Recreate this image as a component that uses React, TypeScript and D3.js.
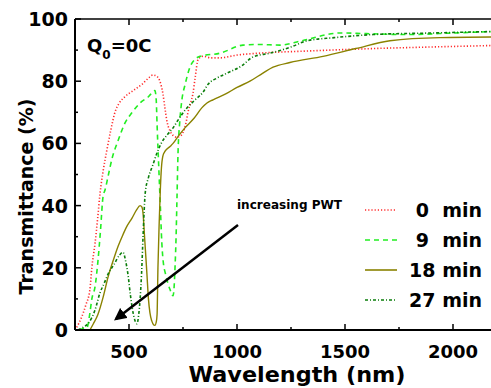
import React from "react"
import * as d3 from "d3"

// wavelength (nm), transmittance (%)
const min0: [number, number][] = [
  [250, 0], [259, 1], [280, 4], [300, 8], [319, 13], [328, 20], [343, 28], [355, 36], [366, 44],
  [380, 51], [398, 58], [415, 64], [435, 70], [455, 73], [481, 75], [520, 77], [560, 79], [590, 81],
  [611, 82], [630, 81.5], [643, 80], [657, 76], [667, 71], [676, 67], [690, 64], [705, 62.5],
  [722, 62], [740, 62.5], [750, 63.5], [765, 67], [773, 70], [785, 73], [796, 76], [806, 81],
  [820, 87], [843, 88], [880, 87.5], [921, 87.5], [1000, 88.4], [1100, 89], [1324, 89.7],
  [1630, 90.5], [1900, 91], [2200, 91.5],
]
const min9: [number, number][] = [
  [270, 0], [290, 0.5], [306, 0.8], [319, 5.5], [328, 10], [343, 14], [356, 22], [368, 32],
  [380, 43], [389, 45], [405, 50], [421, 55], [450, 61], [481, 66.5], [515, 70], [551, 73],
  [590, 75], [620, 77], [626, 74], [630, 66], [638, 52], [645, 40], [652, 28], [660, 21],
  [667, 18.6], [690, 13], [704, 11], [709, 14], [713, 20], [718, 30], [722, 42], [727, 57],
  [735, 67], [745, 74], [760, 79], [782, 84.5], [805, 87], [829, 88], [921, 89], [1028, 91.6],
  [1100, 91.8], [1199, 91.6], [1300, 93], [1477, 95.5], [1600, 95.3], [1787, 95], [2000, 95.5],
  [2200, 96],
]
const min18: [number, number][] = [
  [319, 0], [335, 2], [356, 5], [380, 10.5], [403, 17], [430, 23], [450, 27], [468, 30],
  [490, 33.3], [514, 36], [535, 38.6], [551, 40], [560, 39.5], [565, 37.5], [572, 30], [583, 18],
  [590, 10], [597, 5.5], [605, 3], [611, 2], [620, 1.5], [626, 2.5], [630, 5], [634, 20],
  [640, 35], [645, 45], [650, 52], [657, 56], [667, 57.5], [690, 59], [704, 60], [730, 62.5],
  [759, 65], [800, 68], [838, 71.5], [861, 73], [889, 74], [950, 76], [1000, 78], [1060, 80],
  [1120, 82.6], [1167, 84.5], [1245, 86], [1398, 88], [1550, 90.5], [1708, 93], [1940, 94],
  [2200, 94.2],
]
const min27: [number, number][] = [
  [264, 0], [290, 1], [310, 2], [343, 6.5], [366, 12], [385, 15], [403, 18], [430, 21], [455, 24],
  [472, 25], [485, 22], [495, 18], [507, 11], [519, 5.5], [528, 3], [537, 2], [545, 5], [551, 9.5],
  [558, 18], [565, 30], [570, 38], [575, 44], [590, 49], [610, 53], [630, 57], [653, 60.5],
  [680, 63], [704, 65], [727, 67.5], [768, 71.4], [806, 74], [843, 76.5], [866, 79], [907, 81],
  [954, 82.6], [1023, 85], [1074, 87.8], [1153, 89], [1250, 91], [1324, 93], [1450, 94],
  [1630, 95], [1900, 95.5], [2200, 96],
]

const seriesNames = ["0  min", "9  min", "18 min", "27 min"]
const seriesData = [min0, min9, min18, min27]
const colors = ["#ff2a2a", "#22ee22", "#8a8200", "#0a7d0a"]
const dashes = ["1.2,2", "5,4", "none", "3,2,1,2"]

const xTicks = [500, 1000, 1500, 2000]
const xMinor = [250, 750, 1250, 1750]
const yTicks = [0, 20, 40, 60, 80, 100]
const yMinor = [10, 30, 50, 70, 90]

const font = "'DejaVu Sans', sans-serif"

export default function App() {
  const W = 491
  const H = 388
  const margin = { top: 19, left: 75, bottom: 58 }
  const x = d3.scaleLinear().domain([250, 2200]).range([margin.left, margin.left + 1950 * 0.216])
  const y = d3.scaleLinear().domain([0, 100]).range([H - margin.bottom, margin.top])
  const x0 = x.range()[0]
  const x1 = x.range()[1]
  const yb = y(0)
  const yt = y(100)

  const line = d3
    .line<[number, number]>()
    .x((d) => x(d[0]))
    .y((d) => y(d[1]))
    .curve(d3.curveMonotoneX)

  return (
    <svg width={W} height={H} style={{ position: "absolute", left: 0, top: 0, background: "#fff" }}>
      <defs>
        <clipPath id="plot">
          <rect x={x0} y={yt} width={x1 - x0} height={yb - yt} />
        </clipPath>
        <marker id="head" viewBox="0 0 10 10" refX="8" refY="5" markerWidth="5" markerHeight="5" orient="auto">
          <path d="M0,0 L10,5 L0,10 z" fill="#000" />
        </marker>
      </defs>

      <g clipPath="url(#plot)">
        {seriesData.map((d, i) => (
          <path
            key={i}
            d={line(d) || ""}
            fill="none"
            stroke={colors[i]}
            strokeWidth={i === 2 ? 1.4 : 1.6}
            strokeDasharray={dashes[i]}
          />
        ))}
      </g>

      {/* axes frame */}
      <line x1={x0} x2={W} y1={yb} y2={yb} stroke="#000" strokeWidth={2} />
      <line x1={x0} x2={W} y1={yt} y2={yt} stroke="#000" strokeWidth={1.5} />
      <line x1={x0} x2={x0} y1={yt} y2={yb} stroke="#000" strokeWidth={2} />

      {xTicks.map((t) => (
        <g key={t}>
          <line x1={x(t)} x2={x(t)} y1={yb} y2={yb - 6} stroke="#000" strokeWidth={1.5} />
          <line x1={x(t)} x2={x(t)} y1={yt} y2={yt + 6} stroke="#000" strokeWidth={1.5} />
          <text x={x(t)} y={yb + 28} textAnchor="middle" fontFamily={font} fontWeight="bold" fontSize={18}>
            {t}
          </text>
        </g>
      ))}
      {xMinor.map((t) => (
        <g key={t}>
          <line x1={x(t)} x2={x(t)} y1={yb} y2={yb - 3} stroke="#000" strokeWidth={1.5} />
          <line x1={x(t)} x2={x(t)} y1={yt} y2={yt + 3} stroke="#000" strokeWidth={1.5} />
        </g>
      ))}
      {yTicks.map((t) => (
        <g key={t}>
          <line x1={x0} x2={x0 + 6} y1={y(t)} y2={y(t)} stroke="#000" strokeWidth={1.5} />
          <text x={x0 - 7} y={y(t) + 7} textAnchor="end" fontFamily={font} fontWeight="bold" fontSize={19}>
            {t}
          </text>
        </g>
      ))}
      {yMinor.map((t) => (
        <line key={t} x1={x0} x2={x0 + 3} y1={y(t)} y2={y(t)} stroke="#000" strokeWidth={1.5} />
      ))}

      <text
        x={297}
        y={382}
        textAnchor="middle"
        fontFamily={font}
        fontWeight="bold"
        fontSize={21}
        textLength={217}
        lengthAdjust="spacingAndGlyphs"
      >
        Wavelength (nm)
      </text>
      <text
        transform={`translate(33,${(yt + yb) / 2 + 22}) rotate(-90)`}
        textAnchor="middle"
        fontFamily={font}
        fontWeight="bold"
        fontSize={19}
      >
        Transmittance (%)
      </text>

      {/* title */}
      <text x={87} y={52} fontFamily={font} fontWeight="bold" fontSize={18}>
        Q
        <tspan fontSize={12} dy={7}>0</tspan>
        <tspan dy={-7}>=0C</tspan>
      </text>

      {/* annotation */}
      <text x={237} y={209} fontFamily={font} fontWeight="bold" fontSize={11.5} textLength={105} lengthAdjust="spacingAndGlyphs">
        increasing PWT
      </text>
      <line x1={238} y1={225} x2={116} y2={319} stroke="#000" strokeWidth={2.5} markerEnd="url(#head)" />

      {/* legend */}
      {seriesNames.map((n, i) => {
        const ly = 210 + i * 30
        return (
          <g key={n}>
            <line x1={365} x2={397} y1={ly} y2={ly} stroke={colors[i]} strokeWidth={1.6} strokeDasharray={dashes[i]} />
            <text
              x={482}
              y={ly + 7}
              textAnchor="end"
              fontFamily={font}
              fontWeight="bold"
              fontSize={19}
              style={{ whiteSpace: "pre" }}
            >
              {n}
            </text>
          </g>
        )
      })}
    </svg>
  )
}
